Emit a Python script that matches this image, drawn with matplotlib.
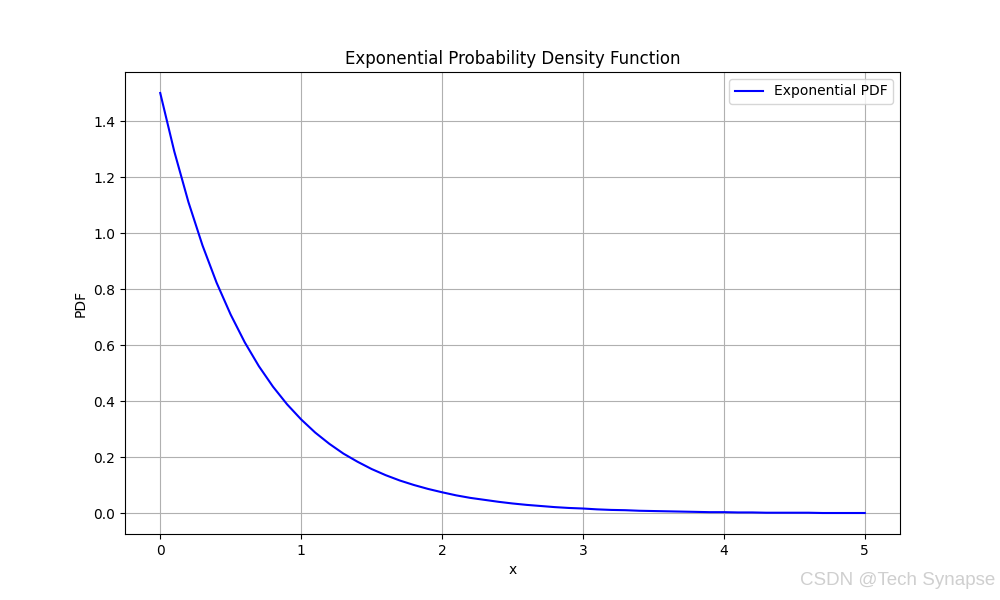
import matplotlib
matplotlib.use('Agg')
import matplotlib.pyplot as plt

# values
x_vals = [0.0, 0.1, 0.2, 0.3, 0.4, 0.5, 0.6, 0.7, 0.8, 0.9,
          1.0, 1.1, 1.2, 1.3, 1.4, 1.5, 1.6, 1.7, 1.8, 1.9,
          2.0, 2.1, 2.2, 2.3, 2.4, 2.5, 2.6, 2.7, 2.8, 2.9,
          3.0, 3.1, 3.2, 3.3, 3.4, 3.5, 3.6, 3.7, 3.8, 3.9,
          4.0, 4.1, 4.2, 4.3, 4.4, 4.5, 4.6, 4.7, 4.8, 4.9, 5.0]
pdf_vals = [1.500, 1.291, 1.111, 0.956, 0.823, 0.709, 0.610, 0.525, 0.452, 0.389,
            0.335, 0.288, 0.248, 0.213, 0.184, 0.158, 0.136, 0.117, 0.101, 0.087,
            0.075, 0.064, 0.055, 0.048, 0.041, 0.035, 0.030, 0.026, 0.022, 0.019,
            0.017, 0.014, 0.012, 0.011, 0.009, 0.008, 0.007, 0.006, 0.005, 0.004,
            0.004, 0.003, 0.003, 0.002, 0.002, 0.002, 0.002, 0.001, 0.001, 0.001, 0.001]

fig, ax = plt.subplots(figsize=(10, 6), dpi=100)
ax.plot(x_vals, pdf_vals, color='blue', label='Exponential PDF')
ax.set_title('Exponential Probability Density Function')
ax.set_xlabel('x')
ax.set_ylabel('PDF')
ax.legend()
ax.grid(True)

# watermark
fig.text(0.995, 0.018, 'CSDN @Tech Synapse', ha='right', va='bottom',
         fontsize=13.5, color='#cfcfcf', family='Liberation Sans')

fig.savefig('out.png', dpi=100)
plt.close()
